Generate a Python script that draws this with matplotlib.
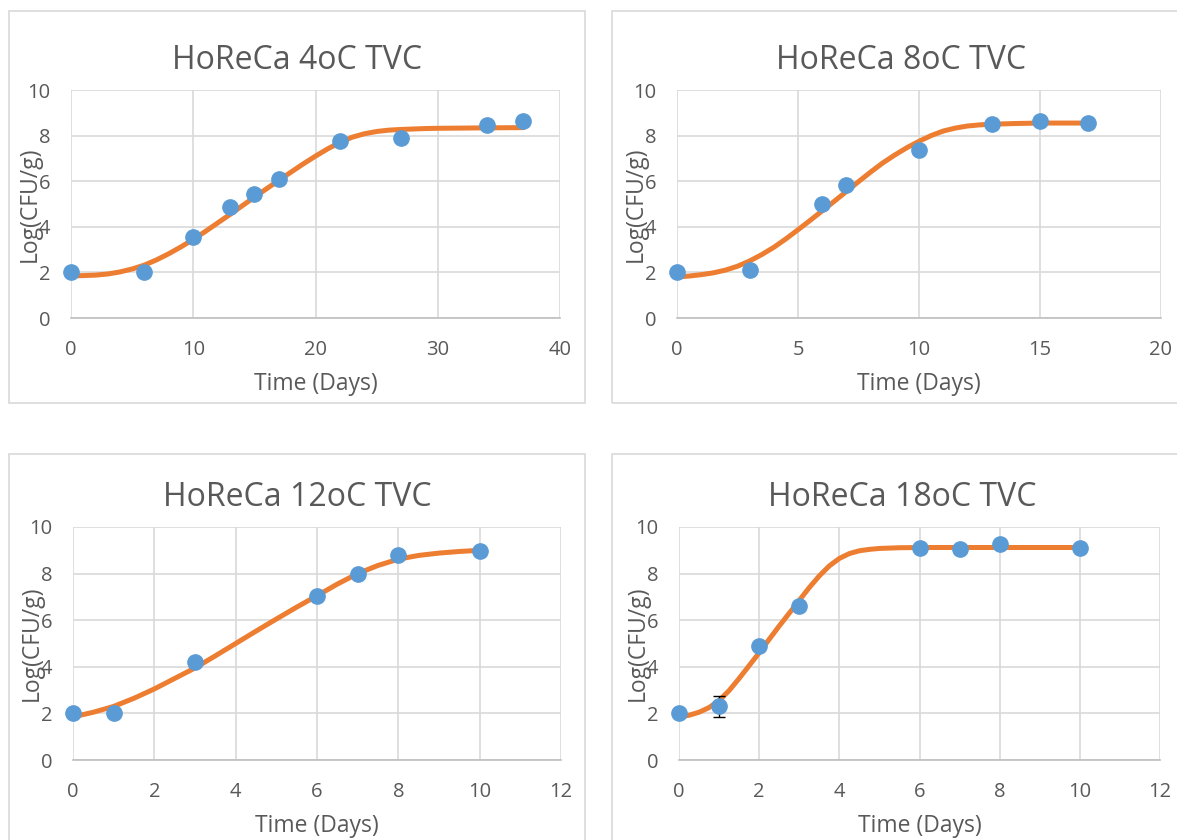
import matplotlib
matplotlib.use("Agg")
from matplotlib import pyplot as plt
from matplotlib.patches import Rectangle

plt.rcParams['font.family'] = ['Open Sans', 'DejaVu Sans']

W, H = 1177, 840

t4 = [0, 6, 10, 13, 15, 17, 22, 27, 34, 37]
y4 = [2.0, 2.0, 3.55, 4.85, 5.42, 6.08, 7.75, 7.88, 8.45, 8.62]
fit_t4 = [0, 1, 2, 3, 4, 5, 6, 7, 8, 9, 10, 11, 12, 13, 14, 15, 16, 17, 18, 19, 20,
          21, 22, 23, 24, 25, 26, 27, 28, 29, 30, 32, 34, 37]
fit_y4 = [1.85, 1.86, 1.88, 1.93, 2.02, 2.15, 2.32, 2.55, 2.82, 3.12, 3.45, 3.8, 4.17,
          4.54, 4.92, 5.3, 5.67, 6.04, 6.4, 6.76, 7.1, 7.42, 7.7, 7.93, 8.08, 8.18, 8.24,
          8.27, 8.29, 8.31, 8.32, 8.33, 8.34, 8.35]

t8 = [0, 3, 6, 7, 10, 13, 15, 17]
y8 = [2.0, 2.12, 5.0, 5.85, 7.35, 8.5, 8.65, 8.55]
fit_t8 = [0, 0.5, 1, 1.5, 2, 2.5, 3, 3.5, 4, 4.5, 5, 5.5, 6, 6.5, 7, 7.5, 8, 8.5, 9,
          9.5, 10, 10.5, 11, 11.5, 12, 12.5, 13, 14, 15, 17]
fit_y8 = [1.8, 1.84, 1.9, 1.98, 2.1, 2.27, 2.5, 2.78, 3.1, 3.47, 3.87, 4.28, 4.7, 5.12,
          5.55, 5.98, 6.4, 6.8, 7.15, 7.47, 7.75, 8.0, 8.2, 8.33, 8.42, 8.47, 8.5, 8.53,
          8.55, 8.55]

t12 = [0, 1, 3, 6, 7, 8, 10]
y12 = [2.0, 2.0, 4.22, 7.03, 7.97, 8.8, 8.98]
fit_t12 = [0, 0.5, 1, 1.5, 2, 2.5, 3, 3.5, 4, 4.5, 5, 5.5, 6, 6.5, 7, 7.5, 8, 8.5, 9, 9.5, 10]
fit_y12 = [1.85, 2.05, 2.3, 2.65, 3.05, 3.5, 3.95, 4.47, 5.0, 5.53, 6.05, 6.56, 7.05,
           7.55, 8.0, 8.35, 8.62, 8.78, 8.88, 8.95, 9.0]

t18 = [0, 1, 2, 3, 6, 7, 8, 10]
y18 = [2.0, 2.3, 4.9, 6.6, 9.1, 9.05, 9.25, 9.12]
err18 = [0, 0.45, 0, 0, 0, 0, 0, 0]
fit_t18 = [0, 0.25, 0.5, 0.75, 1, 1.25, 1.5, 1.75, 2, 2.25, 2.5, 2.75, 3, 3.25, 3.5,
           3.75, 4, 4.25, 4.5, 4.75, 5, 5.5, 6, 8, 10]
fit_y18 = [1.85, 1.92, 2.05, 2.25, 2.55, 2.98, 3.5, 4.05, 4.6, 5.18, 5.75, 6.3, 6.85,
           7.4, 7.9, 8.33, 8.65, 8.86, 8.98, 9.04, 9.08, 9.11, 9.12, 9.12, 9.12]

titles = ['HoReCa 4oC TVC', 'HoReCa 8oC TVC', 'HoReCa 12oC TVC', 'HoReCa 18oC TVC']
xmax = [40, 20, 12, 12]
xstep = [10, 5, 2, 2]

fig = plt.figure(figsize=(W / 100, H / 100), dpi=100)

# chart frames (x0, y0, x1, y1 in pixels from top-left)
frames = [(8.5, 11, 585, 403), (612, 11, 1190, 403), (8.5, 454, 585, 850), (612, 454, 1190, 850)]
for x0, y0, x1, y1 in frames:
    fig.patches.append(Rectangle((x0 / W, 1 - y1 / H), (x1 - x0) / W, (y1 - y0) / H,
                                 transform=fig.transFigure, fill=False,
                                 edgecolor='#D9D9D9', linewidth=1.2))

# plot areas (left, right, top, bottom in pixels)
areas = [(71, 560, 90, 318), (677, 1161, 90, 318), (73, 561, 527, 760), (679, 1160, 527, 760)]
title_cx = [297, 901, 297, 902]
series = [(t4, y4, None, fit_t4, fit_y4), (t8, y8, None, fit_t8, fit_y8),
          (t12, y12, None, fit_t12, fit_y12), (t18, y18, err18, fit_t18, fit_y18)]

for i, (l, r, t, b) in enumerate(areas):
    ax = fig.add_axes([l / W, 1 - b / H, (r - l) / W, (b - t) / H])
    xs, ys, err, ft, fy = series[i]
    ax.plot(ft, fy, color='#ED7D31', linewidth=3.6, zorder=3, clip_on=False,
            solid_joinstyle='round', solid_capstyle='round')
    if err is not None:
        ax.errorbar(xs, ys, yerr=err, fmt='none', ecolor='black', elinewidth=1,
                    capsize=4, zorder=4)
    ax.plot(xs, ys, 'o', color='#5B9BD5', markersize=11, zorder=5, clip_on=False)
    ax.set_xlim(0, xmax[i])
    ax.set_ylim(0, 10)
    ax.set_xticks(range(0, xmax[i] + 1, xstep[i]))
    ax.set_yticks(range(0, 11, 2))
    ax.grid(True, color='#D9D9D9', linewidth=1.2)
    ax.set_axisbelow(True)
    for s in ['top', 'right', 'left']:
        ax.spines[s].set_visible(False)
    ax.spines['bottom'].set_color('#BFBFBF')
    ax.spines['bottom'].set_linewidth(1.2)
    ax.tick_params(length=0, labelsize=14.5, labelcolor='#595959')
    ax.tick_params(axis='x', pad=16)
    ax.tick_params(axis='y', pad=15)
    ax.set_title(titles[i], fontsize=23, color='#595959', pad=15,
                 x=(title_cx[i] - l) / (r - l))
    ax.set_xlabel('Time (Days)', fontsize=16.5, color='#595959')
    ax.xaxis.set_label_coords(0.5, -54 / (b - t))
    ax.set_ylabel('Log(CFU/g)', fontsize=16.5, color='#595959')
    ax.yaxis.set_label_coords(-29 / (r - l), 0.5)
    for lab in ax.get_xticklabels() + ax.get_yticklabels():
        lab.set_clip_on(False)

fig.savefig('out.png', dpi=100)
